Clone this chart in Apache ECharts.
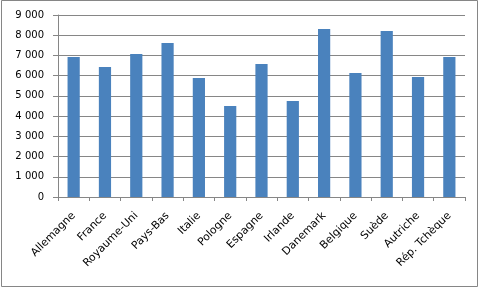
<!DOCTYPE html>
<html><head><meta charset="utf-8">
<script src="https://cdn.jsdelivr.net/npm/echarts@6/dist/echarts.min.js"></script>
<style>html,body{margin:0;padding:0;background:#fff;}#c{width:481px;height:289px;}</style>
</head><body><div id="c"></div>
<script>
const categories = ["Allemagne","France","Royaume-Uni","Pays-Bas","Italie","Pologne","Espagne","Irlande","Danemark","Belgique","Suède","Autriche","Rép. Tchèque"];
const values = [6920,6430,7070,7620,5890,4500,6580,4750,8310,6130,8210,5930,6920];
const yTicks = [0,1000,2000,3000,4000,5000,6000,7000,8000,9000];

const chart = echarts.init(document.getElementById('c'), null, {renderer:'canvas'});
const font = '"DejaVu Sans", sans-serif';
chart.setOption({
  animation:false,
  graphic:[{type:'rect', shape:{x:1.5,y:0.5,width:476,height:286}, style:{fill:'none',stroke:'#868686',lineWidth:1}, silent:true}],
  grid:{left:58,right:16,top:15,bottom:92},
  xAxis:{type:'category', data:categories,
    axisLine:{lineStyle:{color:'#868686'}},
    axisTick:{show:true, length:4, lineStyle:{color:'#868686'}},
    axisLabel:{rotate:45, interval:0, color:'#000', fontSize:10.8, fontFamily:font, margin:17}},
  yAxis:{type:'value', min:yTicks[0], max:yTicks[yTicks.length-1], interval:1000,
    axisLine:{show:true, lineStyle:{color:'#868686'}},
    axisTick:{show:true, length:5, lineStyle:{color:'#868686'}},
    splitLine:{lineStyle:{color:'#868686'}},
    axisLabel:{color:'#000', fontSize:10, fontFamily:font, margin:14,
      formatter:v=>String(v).replace(/\B(?=(\d{3})+(?!\d))/g,' ')}},
  series:[{type:'bar', data:values, barWidth:'39%', itemStyle:{color:'#4a82bd'}}]
});
</script></body></html>
